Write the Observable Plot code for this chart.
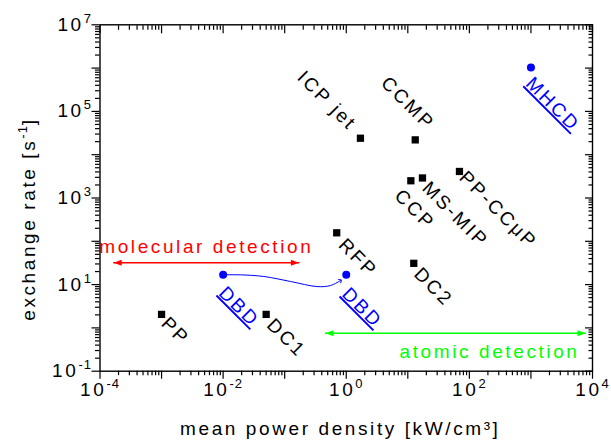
<!DOCTYPE html>
<html><head><meta charset="utf-8">
<script src="https://cdn.jsdelivr.net/npm/d3@7"></script>
<script src="https://cdn.jsdelivr.net/npm/@observablehq/plot@0.6"></script>
<style>
body{margin:0;background:#fff;}
</style></head><body><div id="chart"></div>
<script>
// ---- data ----
const sourceNames   = ["ICP jet", "CCMP", "CCP", "MS-MIP", "PP-CCμP", "RFP", "DC2", "DC1", "PP"];
const sourcePower   = [1.7, 13.2, 11.2, 17.3, 69, 0.70, 12.5, 0.05, 0.001];
const sourceRate    = [2.4e4, 2.2e4, 2.5e3, 2.9e3, 4.1e3, 157, 31, 2.05, 2.05];

const blueNames = ["DBD", "DBD", "MHCD"];
const bluePower = [0.01, 1, 1000];
const blueRate  = [16.8, 16.8, 1.03e6];

const curvePower = [0.01, 0.0191, 0.0458, 0.1245, 0.337, 0.554, 0.807];
const curveRate  = [16.8, 16.8, 15.4, 11.8, 9.0, 9.5, 12.4];

const molecularRange = [1.67e-4, 0.17];
const molecularRate = 32;
const atomicRange = [0.46, 7700];
const atomicRate = 0.755;

const xTickExponents = [-4, -3, -2, -1, 0, 1, 2, 3, 4];
const xLabelExponents = [-4, -2, 0, 2, 4];
const yTickExponents = [-1, 0, 1, 2, 3, 4, 5, 6, 7];
const yLabelExponents = [-1, 1, 3, 5, 7];

const xTitle = "mean power density [kW/cm³]";
const yTitle = "exchange rate [s^-1]";

// ---- layout (label placement relative to each point, px) ----
const sourceLayout = [
  {anchor: "end",   dx: -7,  dy: -11},
  {anchor: "end",   dx: 16,  dy: -13},
  {anchor: "start", dx: -13, dy: 12},
  {anchor: "start", dx: 3,   dy: 7},
  {anchor: "start", dx: 3,   dy: 3},
  {anchor: "start", dx: 5,   dy: 9},
  {anchor: "start", dx: 3.5, dy: 7.5},
  {anchor: "start", dx: 4,   dy: 7.5},
  {anchor: "start", dx: 3,   dy: 6}
];
const blueLayout = [
  {dx: -1, dy: 15},
  {dx: -1, dy: 16},
  {dx: -2, dy: 13}
];

const xMajor = xTickExponents.map(e => Math.pow(10, e));
const yMajor = yTickExponents.map(e => Math.pow(10, e));
const xMinor = xTickExponents.slice(0, -1).flatMap(e => d3.range(2, 10).map(m => m * Math.pow(10, e)));
const yMinor = yTickExponents.slice(0, -1).flatMap(e => d3.range(2, 10).map(m => m * Math.pow(10, e)));
const fmt = labels => d => {
  const e = Math.round(Math.log10(d));
  return labels.includes(e) ? `10^${e}` : "";
};

const sources = sourceNames.map((n, i) => ({name: n, x: sourcePower[i], y: sourceRate[i]}));
const blues = blueNames.map((n, i) => ({name: n, x: bluePower[i], y: blueRate[i]}));
const curve = curvePower.map((x, i) => ({x, y: curveRate[i]}));

const FONT = "'Liberation Sans', Arial, Helvetica, sans-serif";
const headShape = {draw(ctx, l) { ctx.moveTo(0, -l); ctx.lineTo(-3, 0); ctx.lineTo(3, 0); ctx.closePath(); }};

function rangeArrow(range, rate, color) {
  const pts = range.map(x => ({x, y: rate}));
  return [
    Plot.line(pts, {x: "x", y: "y", stroke: color, strokeWidth: 1.4}),
    Plot.vector([pts[1]], {x: "x", y: "y", length: 8, rotate: 90, anchor: "end", shape: headShape, fill: color, stroke: "none"}),
    Plot.vector([pts[0]], {x: "x", y: "y", length: 8, rotate: -90, anchor: "end", shape: headShape, fill: color, stroke: "none"})
  ];
}

const plot = Plot.plot({
  width: 611, height: 446,
  marginLeft: 99.5, marginRight: 19, marginTop: 24.3, marginBottom: 75.3,
  x: {type: "log", domain: [1e-4, 1e4]},
  y: {type: "log", domain: [1e-1, 1e7]},
  style: {fontFamily: FONT, fontSize: "19px", letterSpacing: "2.6px", background: "#fff", color: "#000", overflow: "visible"},
  marks: [
    Plot.axisX(xMinor, {anchor: "bottom", tickSize: 4.5, tickFormat: () => "", label: null, strokeWidth: 1.2}),
    Plot.axisX(xMajor, {anchor: "bottom", tickSize: 8, tickPadding: 3, tickFormat: fmt(xLabelExponents), label: null, strokeWidth: 1.2}),
    Plot.axisX(xMinor, {anchor: "top", tickSize: -4.5, tickFormat: () => "", label: null, strokeWidth: 1.2}),
    Plot.axisX(xMajor, {anchor: "top", tickSize: -8, tickFormat: () => "", label: null, strokeWidth: 1.2}),
    Plot.axisY(yMinor, {anchor: "left", tickSize: 4.5, tickFormat: () => "", label: null, strokeWidth: 1.2}),
    Plot.axisY(yMajor, {anchor: "left", tickSize: 8, tickPadding: 0, tickFormat: fmt(yLabelExponents), label: null, strokeWidth: 1.2}),
    Plot.axisY(yMinor, {anchor: "right", tickSize: -4.5, tickFormat: () => "", label: null, strokeWidth: 1.2}),
    Plot.axisY(yMajor, {anchor: "right", tickSize: -8, tickFormat: () => "", label: null, strokeWidth: 1.2}),
    Plot.frame({stroke: "#000", strokeWidth: 1.4}),
    Plot.text([xTitle], {frameAnchor: "bottom", textAnchor: "middle", dx: -6, dy: 58, lineAnchor: "middle", text: d => d, fill: "#000"}),
    Plot.text([yTitle], {frameAnchor: "left", textAnchor: "middle", dx: -71.5, dy: 21, rotate: -90, lineAnchor: "middle", text: d => d, fill: "#000"}),
    ...rangeArrow(molecularRange, molecularRate, "#ff0000"),
    ...rangeArrow(atomicRange, atomicRate, "#00ff00"),
    Plot.text([{x: Math.sqrt(molecularRange[0] * molecularRange[1]), y: molecularRate}], {x: "x", y: "y", text: () => "molecular detection", fill: "#ff0000", lineAnchor: "middle", dy: -15.4}),
    Plot.text([{x: atomicRange[1], y: atomicRate}], {x: "x", y: "y", text: () => "atomic detection", fill: "#00ff00", textAnchor: "end", lineAnchor: "middle", dx: -6, dy: 19.2}),
    Plot.line(curve, {x: "x", y: "y", curve: "catmull-rom", stroke: "#0000ff", strokeWidth: 1, markerEnd: "arrow"}),
    Plot.dot(sources, {x: "x", y: "y", symbol: "square", r: 4.1, fill: "#000", stroke: "none"}),
    Plot.dot(blues, {x: "x", y: "y", symbol: "circle", r: 4, fill: "#0000ff", stroke: "none"}),
    ...sources.map((d, i) => Plot.text([d], {x: "x", y: "y", text: "name", rotate: 45, textAnchor: sourceLayout[i].anchor, lineAnchor: "middle", dx: sourceLayout[i].dx, dy: sourceLayout[i].dy, fill: "#000"})),
    ...blues.map((d, i) => Plot.text([d], {x: "x", y: "y", text: "name", rotate: 45, textAnchor: "start", lineAnchor: "middle", dx: blueLayout[i].dx, dy: blueLayout[i].dy, fill: "#0000ff"}))
  ]
});

const sup = (s, txt) => s.append("tspan").attr("dy", -8).attr("font-size", 13).style("letter-spacing", "1px").text(txt);
d3.select(plot).selectAll("text").each(function() {
  const t = this.textContent;
  const s = d3.select(this);
  const m = /^10\^(-?\d+)$/.exec(t);
  if (m) {
    s.text("10");
    sup(s, m[1]);
  } else if (t === yTitle) {
    s.text("exchange rate [s");
    sup(s, "-1");
    s.append("tspan").attr("dy", 8).text("]");
  } else if (blueNames.includes(t)) {
    s.style("text-decoration", "underline").style("text-underline-offset", "3px");
  }
});

document.getElementById("chart").appendChild(plot);
</script>
</body></html>
